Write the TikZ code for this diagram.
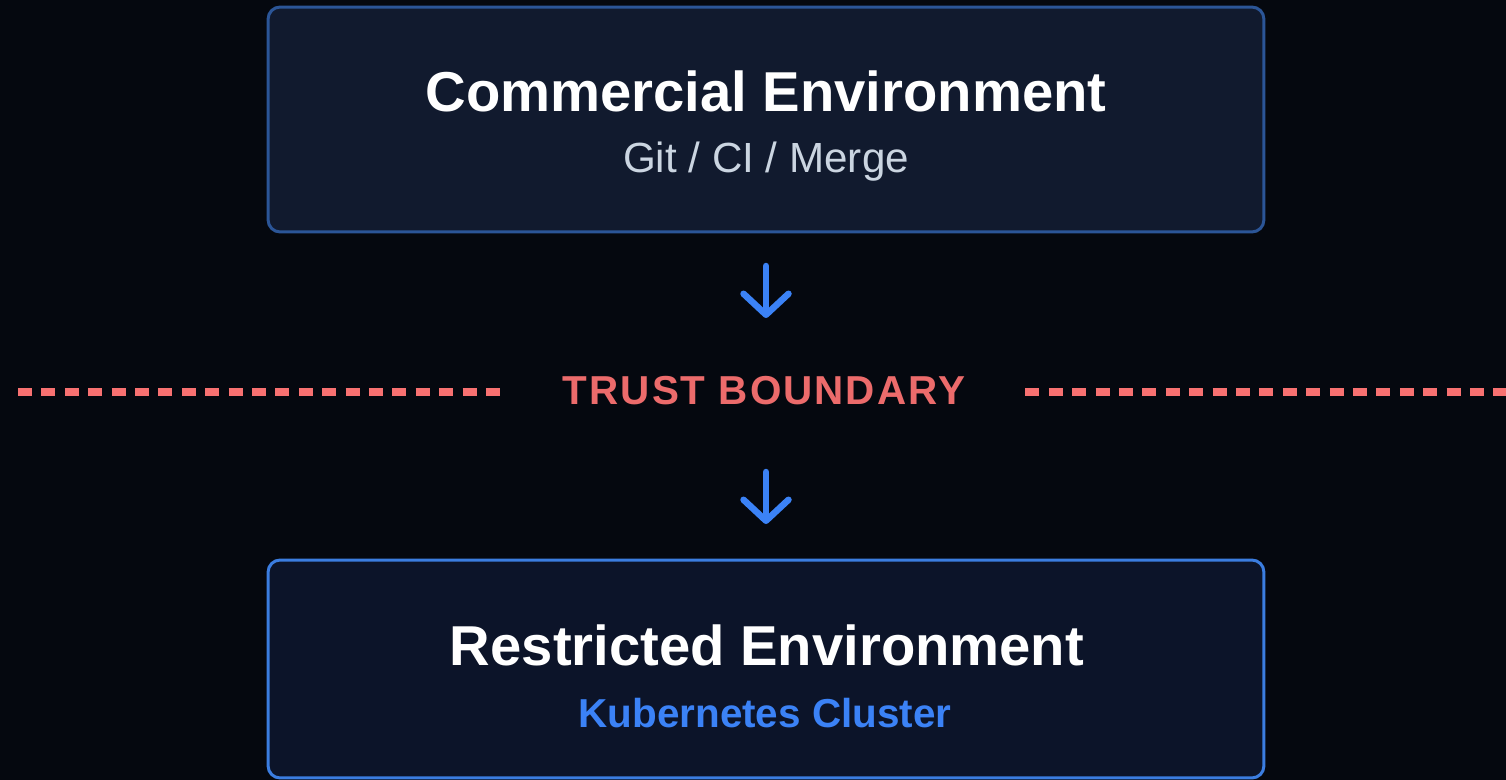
\documentclass[tikz,border=0pt]{standalone}
\usepackage{fontspec}
\setmainfont{Liberation Sans}
\usepackage{tikz}
\usetikzlibrary{arrows.meta}

\definecolor{bgnavy}{HTML}{05080F}
\definecolor{commfill}{HTML}{111A2E}
\definecolor{commline}{HTML}{2B5597}
\definecolor{restfill}{HTML}{0C1429}
\definecolor{restline}{HTML}{3B7DE0}
\definecolor{arrowblue}{HTML}{3B82F6}
\definecolor{subgray}{HTML}{CBD5E1}
\definecolor{trustred}{HTML}{F87171}
\definecolor{trusttext}{HTML}{EC6B6B}

\tikzset{
	envbox/.style={line width=0.06cm, rounded corners=0.24cm, minimum width=19.92cm, inner sep=0pt},
	envtitle/.style={anchor=base, text=white, font=\fontsize{32}{38}\selectfont\bfseries},
	envsub/.style={anchor=base, font=\fontsize{24}{29}\selectfont},
	flow/.style={draw=arrowblue, line width=0.13cm, line cap=round, line join=round, -{Straight Barb[round, length=0.42cm, width=0.9cm]}},
	boundary/.style={draw=trustred, line width=0.15cm, dash pattern=on 0.28cm off 0.188cm}
}

\begin{document}
\begin{tikzpicture}[x=0.02cm, y=-0.02cm]
					\def\xMAX{1506};
					\def\yMAX{780};

					\fill[bgnavy] (0,0) rectangle (\xMAX,\yMAX);
					\useasboundingbox (0,0) rectangle (\xMAX,\yMAX);

					\begin{scope}
						\node[envbox, fill=commfill, draw=commline, minimum height=4.5cm] (comm) at (766,119.5) {};
						\node[envtitle] (commtitle) at (766,112) {Commercial Environment};
						\node[envsub, text=subgray] (commsub) at (766,173) {Git / CI / Merge};
					\end{scope}

					\begin{scope}
						\node[envbox, fill=restfill, draw=restline, minimum height=4.36cm] (rest) at (766,669) {};
						\node[envtitle] (resttitle) at (767,665) {Restricted Environment};
						\node[envsub, text=arrowblue, font=\fontsize{23}{28}\selectfont\bfseries] (restsub) at (765,727) {Kubernetes Cluster};
					\end{scope}

					\begin{scope}
						\node[text=trusttext, inner xsep=1.2cm, inner ysep=0pt, font=\fontsize{23}{28}\selectfont\bfseries\addfontfeature{LetterSpace=5}] (trust) at (764,391) {TRUST BOUNDARY};
						\coordinate (edgeL) at (18,392);
						\coordinate (edgeR) at (\xMAX,392);
						\draw[boundary] (edgeL) -- (edgeL -| trust.west);
						\draw[boundary] (edgeR -| trust.east) -- (edgeR);
					\end{scope}

					\begin{scope}
						\coordinate (downA) at (766,266);
						\coordinate (downAend) at (766,318);
						\coordinate (downB) at (766,472);
						\coordinate (downBend) at (766,524);
						\draw[flow] (downA) -- (downAend);
						\draw[flow] (downB) -- (downBend);
					\end{scope}
				\end{tikzpicture}
\end{document}
